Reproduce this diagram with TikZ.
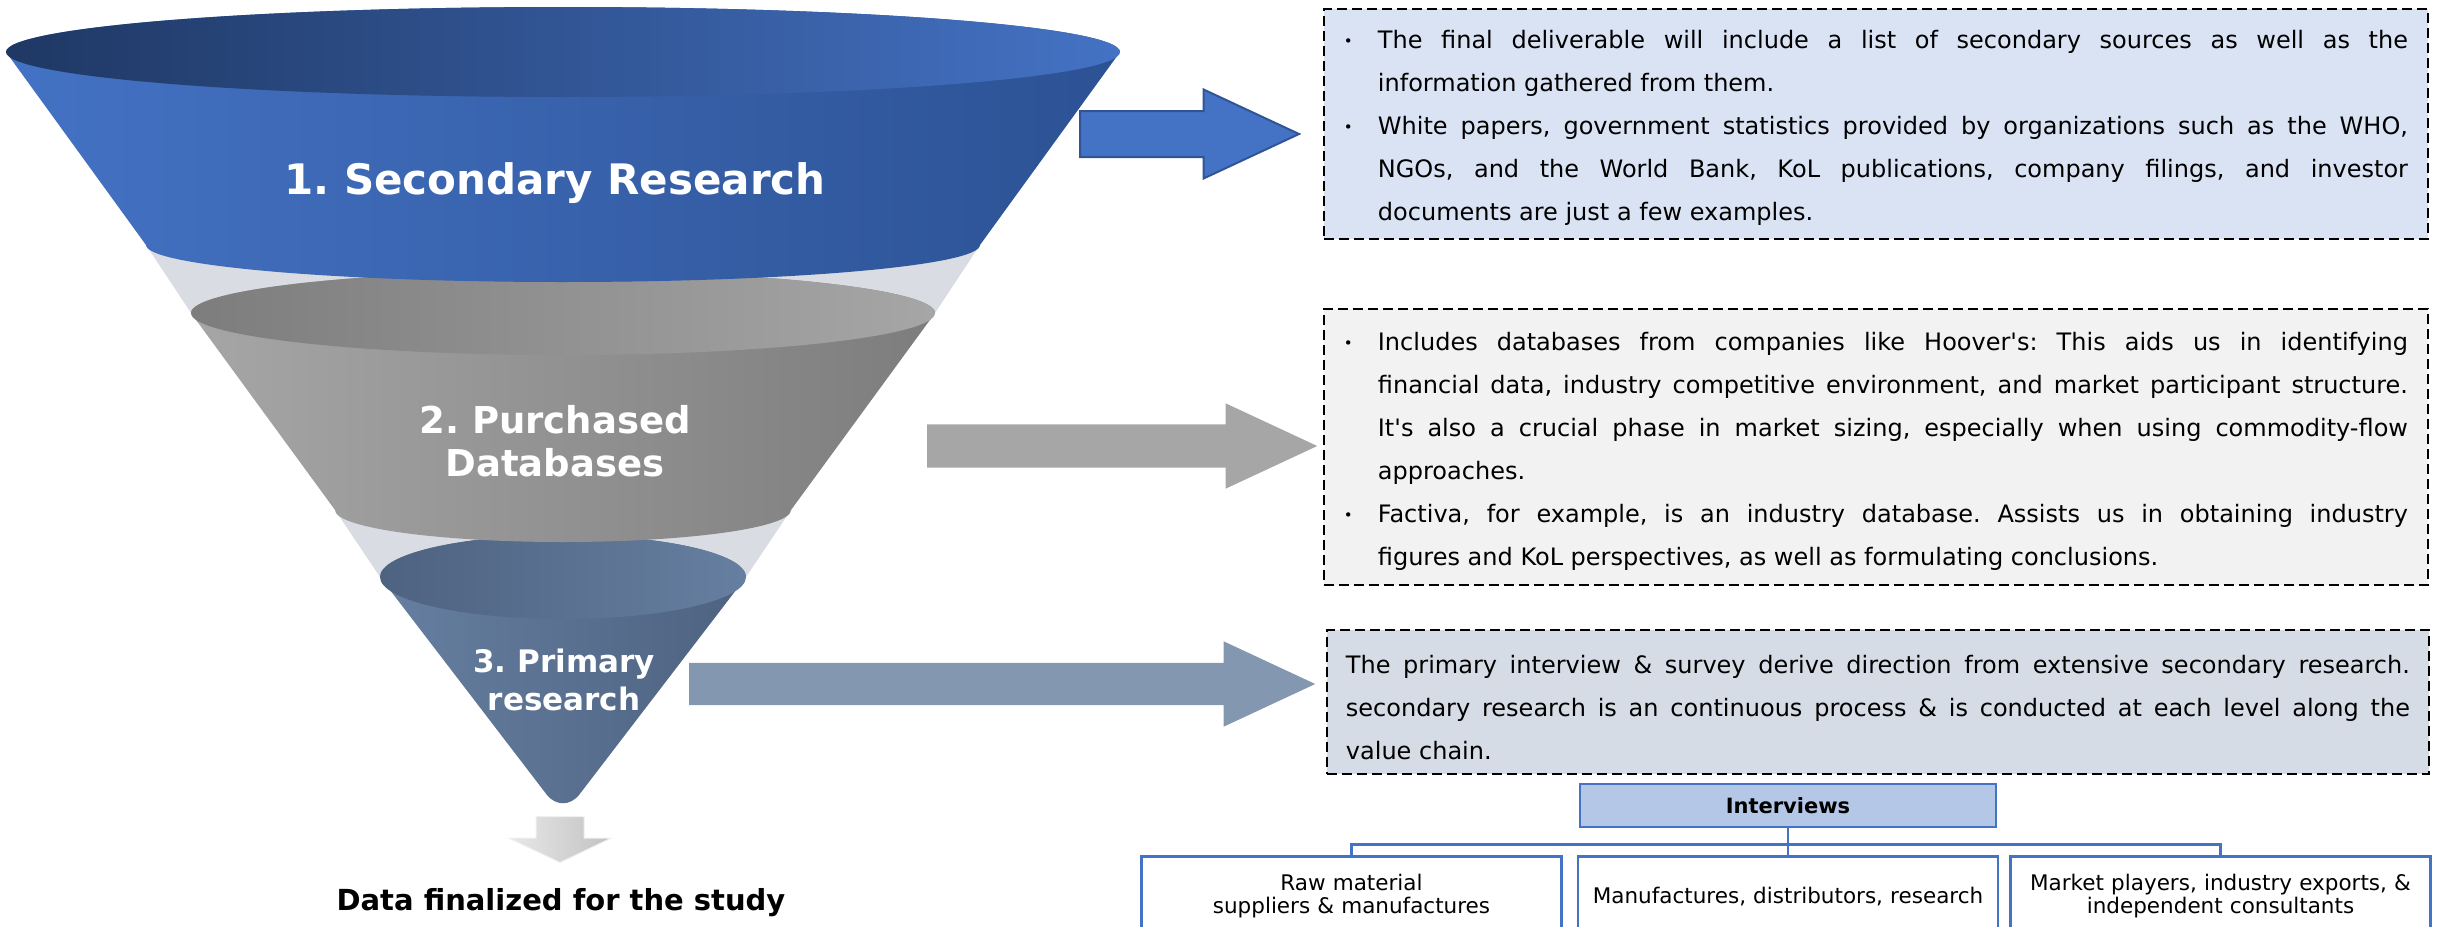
\documentclass[tikz,border=0pt]{standalone}
\usepackage{fontspec}
\setmainfont{DejaVu Sans}
\usepackage{tikz}
\usetikzlibrary{shapes,arrows,positioning}
\definecolor{blueA}{RGB}{68,114,196}
\definecolor{blueB}{RGB}{44,82,148}
\definecolor{blueC}{RGB}{31,56,100}
\definecolor{greyA}{RGB}{166,166,166}
\definecolor{greyB}{RGB}{125,125,125}
\definecolor{slateA}{RGB}{102,127,160}
\definecolor{slateB}{RGB}{78,98,129}
\definecolor{slateC}{RGB}{132,151,176}
\definecolor{gapgrey}{RGB}{217,220,226}
\definecolor{boxblue}{RGB}{218,227,243}
\definecolor{boxgrey}{RGB}{242,242,242}
\definecolor{boxslate}{RGB}{214,220,229}
\definecolor{ivfill}{RGB}{180,199,231}
\definecolor{arrowedge}{RGB}{47,85,151}
\tikzstyle{stage} = [text=white, align=center]
\tikzstyle{note} = [draw, dash pattern=on 10pt off 5pt, line width=1.8pt, text width=1064pt, inner xsep=20pt, inner ysep=0pt, align=justify, anchor=north west, font=\fontsize{24}{43}\selectfont]
\tikzstyle{blockarrow} = [single arrow, single arrow head indent=0pt, single arrow tip angle=50, inner xsep=0pt, anchor=tail]
\tikzstyle{ivbox} = [rectangle, draw=blueA, fill=ivfill, line width=2.5pt, minimum width=416pt, minimum height=43pt, font=\bfseries\fontsize{21}{24}\selectfont]
\tikzstyle{source} = [rectangle, draw=blueA, line width=2.5pt, minimum width=420pt, minimum height=80pt, text width=408pt, align=center, font=\fontsize{21.5}{23}\selectfont]
\tikzstyle{line} = [draw=blueA, line width=2.5pt]
\newcommand{\bulletpar}{\noindent\hangindent=34pt\hangafter=1\makebox[34pt][l]{\raisebox{0.12em}{\fontsize{15}{15}\selectfont\textbullet}}}
\frenchspacing

\begin{document}
\begin{tikzpicture}[x=1pt, y=-1pt]
    \useasboundingbox (0,0) rectangle (2443,926);

    % funnel
    \fill [gapgrey] (146,245) -- (191,313) -- (935,313) -- (980,245) -- cycle;
    \fill [gapgrey] (335,510) -- (380,577) -- (746,577) -- (791,510) -- cycle;

    \shade [left color=slateA, middle color=slateA, right color=slateB] (380,577) -- (547,795) .. controls (556,806) and (570,806) .. (579,795) -- (746,577) arc [start angle=0, end angle=-180, x radius=183, y radius=42] -- cycle;
    \shade [left color=slateB, right color=slateA] (563,577) ellipse [x radius=183, y radius=42];

    \shade [left color=greyA, middle color=greyA, right color=greyB] (191,313) -- (335,510) arc [start angle=180, end angle=0, x radius=228, y radius=32] -- (935,313) arc [start angle=0, end angle=-180, x radius=372, y radius=42] -- cycle;
    \shade [left color=greyB, right color=greyA] (563,313) ellipse [x radius=372, y radius=42];

    \shade [left color=blueA, middle color=blueA, right color=blueB] (6,52) -- (146,245) arc [start angle=180, end angle=0, x radius=417, y radius=37] -- (1120,52) arc [start angle=0, end angle=-180, x radius=557, y radius=45] -- cycle;
    \shade [left color=blueC, right color=blueA] (563,52) ellipse [x radius=557, y radius=45];

    \node [stage, font=\bfseries\fontsize{42}{48}\selectfont] (secondary) at (555,183) {1. Secondary Research};
    \node [stage, font=\bfseries\fontsize{37}{43}\selectfont] (purchased) at (555,441) {2. Purchased\\Databases};
    \node [stage, font=\bfseries\fontsize{31}{38}\selectfont] (primary) at (564,680) {3. Primary\\research};

    \node [blockarrow, rotate=-90, single arrow tip angle=129, inner ysep=23.5pt, single arrow head extend=27pt, minimum height=46pt, left color=gray!18, right color=gray!48, draw=gray!12, line width=1pt] (down) at (560,816) {};
    \node [font=\bfseries\fontsize{29}{32}\selectfont] (final) at (561,903) {Data finalized for the study};

    % arrows to the notes
    \node [blockarrow, fill=blueA, draw=arrowedge, line width=2pt, inner ysep=22pt, single arrow head extend=21.5pt, minimum height=219pt] (arrsec) at (1079,134) {};
    \node [blockarrow, fill=greyA, inner ysep=21.5pt, single arrow head extend=21pt, minimum height=390pt] (arrdb) at (927,446) {};
    \node [blockarrow, fill=slateC, inner ysep=21pt, single arrow head extend=21.5pt, minimum height=626pt] (arrpri) at (689,684) {};

    % notes
    \node [note, fill=boxblue, text height=40pt, text depth=190pt] (notesec) at (1323,8) {%
        \bulletpar The final deliverable will include a list of secondary sources as well as the\linebreak information gathered from them.
        \par\bulletpar White papers, government statistics provided by organizations such as the WHO,\linebreak NGOs, and the World Bank, KoL publications, company filings, and investor\linebreak documents are just a few examples.\par};
    \node [note, fill=boxgrey, text height=42pt, text depth=234pt] (notedb) at (1323,308) {%
        \bulletpar Includes databases from companies like Hoover\textquotesingle s: This aids us in identifying\linebreak financial data, industry competitive environment, and market participant structure.\linebreak It\textquotesingle s also a crucial phase in market sizing, especially when using commodity-flow\linebreak approaches.
        \par\bulletpar Factiva, for example, is an industry database. Assists us in obtaining industry\linebreak figures and KoL perspectives, as well as formulating conclusions.\par};
    \node [note, fill=boxslate, inner xsep=19pt, text height=44pt, text depth=100pt] (notepri) at (1326,629) {%
        The primary interview \& survey derive direction from extensive secondary research.\linebreak secondary research is an continuous process \& is conducted at each level along the\linebreak value chain.\par};

    % interview tree
    \node [ivbox] (interviews) at (1788,805.5) {Interviews};
    \node [source, below=27pt of interviews] (distrib) {Manufactures, distributors, research};
    \node [source, left=14pt of distrib] (rawmat) {Raw material\\suppliers \& manufactures};
    \node [source, right=10pt of distrib] (players) {Market players, industry exports, \&\\independent consultants};

    \path [line] (interviews.south) -- ++(0,16) -| (rawmat.north);
    \path [line] (interviews.south) -- ++(0,16) -| (distrib.north);
    \path [line] (interviews.south) -- ++(0,16) -| (players.north);
\end{tikzpicture}
\end{document}
